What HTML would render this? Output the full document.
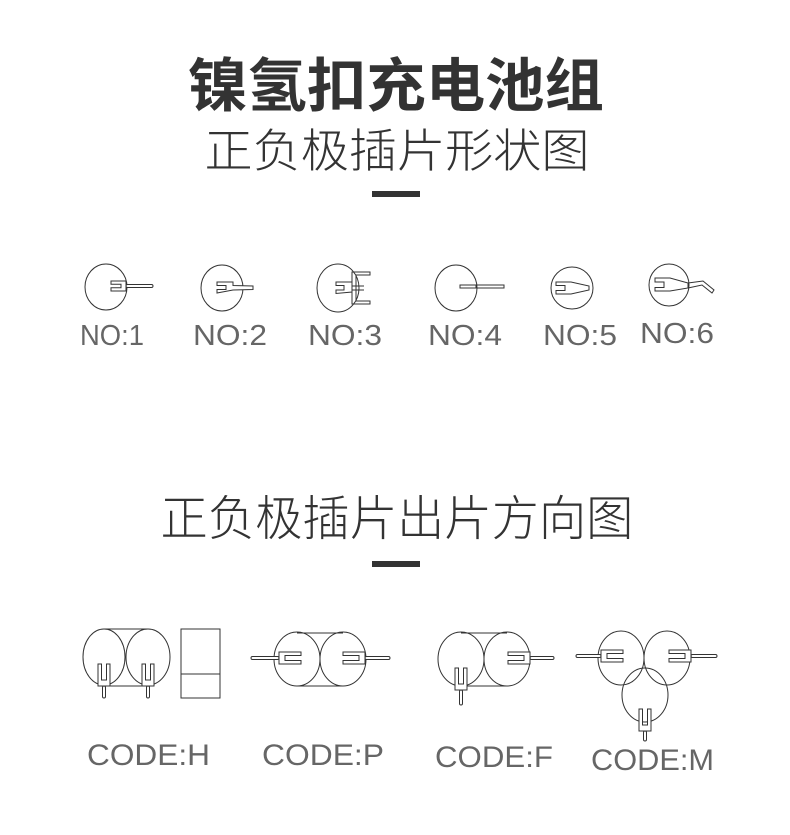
<!DOCTYPE html>
<html><head><meta charset="utf-8"><style>
html,body{margin:0;padding:0;background:#fff;}
svg{display:block;}
.t{font-family:"Liberation Sans","Noto Sans CJK SC",sans-serif;fill:#333;}
.lbl{font-family:"Liberation Sans",sans-serif;fill:#666;font-weight:normal;}
</style></head><body>
<svg width="790" height="835" viewBox="0 0 790 835" xmlns="http://www.w3.org/2000/svg">
<defs>
<g id="fk">
<path d="M0,-5 L-15,-5 L-15,-1.8 L-5,-1.8 L-5,1.8 L-15,1.8 L-15,5 L0,5 Z" fill="#fff" stroke="#333" stroke-width="1"/>
</g>
<g id="fk2">
<path d="M0,-6 L-22,-6 L-22,-2.5 L-6,-2.5 L-6,2.5 L-22,2.5 L-22,6 L0,6 Z" fill="#fff" stroke="#333" stroke-width="1"/>
</g>
</defs>
<text class="t" x="396" y="106" font-size="58" font-weight="bold" text-anchor="middle" textLength="416" lengthAdjust="spacingAndGlyphs">镍氢扣充电池组</text>
<text class="t" x="397" y="167" font-size="46" text-anchor="middle" textLength="385" lengthAdjust="spacingAndGlyphs" style="font-family:'Noto Sans CJK SC',sans-serif;font-weight:300">正负极插片形状图</text>
<rect x="372" y="191" width="48" height="6" fill="#333"/>

<g fill="none" stroke="#333" stroke-width="1">
<!-- NO1 -->
<ellipse cx="106" cy="287" rx="21" ry="23"/>
<use href="#fk" x="126" y="286"/>
<rect x="126" y="284.5" width="27" height="3" rx="1.5" fill="#fff"/>
<!-- NO2 -->
<ellipse cx="222" cy="288" rx="21" ry="23"/>
<path d="M233,282 L217,282 L217,285.5 L226,285.5 L226,289.5 L217,289.5 L217,293 L233,290 L253,289.5 L253,286 L233,285.5 Z" fill="#fff"/>
<!-- NO3 -->
<ellipse cx="338" cy="288" rx="21" ry="24"/>
<path d="M352,282 L336,282 L336,285.5 L344,285.5 L344,290 L336,290 L336,293.5 L352,292 Z"/>
<path d="M352,272 L370,272 L370,275 L356,275 L356,301 L370,301 L370,304 L352,304 Z"/>
<line x1="352" y1="286" x2="364" y2="286"/><line x1="352" y1="290" x2="364" y2="290"/>
<!-- NO4 -->
<ellipse cx="456" cy="288" rx="21" ry="23"/>
<rect x="460" y="285" width="44" height="3"/>
<line x1="476" y1="285" x2="476" y2="288"/>
<!-- NO5 -->
<ellipse cx="572" cy="288" rx="21" ry="21"/>
<path d="M556,282 L571,282 L589,286 L589,290 L571,294 L556,294 L556,290.5 L565,290.5 L565,285.5 L556,285.5 Z"/>
<!-- NO6 -->
<ellipse cx="669" cy="285" rx="20" ry="21"/>
<path d="M655,278 L670,278 L688,283 L688,288 L670,291 L655,291 L655,287.5 L664,287.5 L664,282 L655,282 Z"/>
<path d="M688,283 L703,281 L714,290 L712,293 L702,285 L688,288"/>
</g>
<g class="lbl" font-size="29">
<text x="80" y="345" textLength="64" lengthAdjust="spacingAndGlyphs">NO:1</text>
<text x="193" y="345" textLength="74" lengthAdjust="spacingAndGlyphs">NO:2</text>
<text x="308" y="345" textLength="74" lengthAdjust="spacingAndGlyphs">NO:3</text>
<text x="428" y="345" textLength="74" lengthAdjust="spacingAndGlyphs">NO:4</text>
<text x="543" y="345" textLength="74" lengthAdjust="spacingAndGlyphs">NO:5</text>
<text x="640" y="343" textLength="74" lengthAdjust="spacingAndGlyphs">NO:6</text>
</g>

<text class="t" x="397" y="535" font-size="48" text-anchor="middle" textLength="473" lengthAdjust="spacingAndGlyphs" style="font-family:'Noto Sans CJK SC',sans-serif;font-weight:300">正负极插片出片方向图</text>
<rect x="372" y="561" width="48" height="6" fill="#333"/>

<g fill="none" stroke="#333" stroke-width="1">
<!-- H -->
<line x1="104" y1="629" x2="148" y2="629"/><line x1="104" y1="686" x2="148" y2="686"/>
<ellipse cx="104" cy="657" rx="21" ry="28"/>
<ellipse cx="148" cy="657" rx="22" ry="28"/>
<rect x="181" y="629" width="39" height="69"/><line x1="181" y1="674" x2="220" y2="674"/>
<use href="#fk2" transform="translate(104,686) rotate(90)"/>
<rect x="102.5" y="686" width="3" height="12" rx="1.5" fill="#fff"/>
<use href="#fk2" transform="translate(148,686) rotate(90)"/>
<rect x="146.5" y="686" width="3" height="12" rx="1.5" fill="#fff"/>
<!-- P -->
<line x1="297" y1="633" x2="343" y2="633"/><line x1="297" y1="686" x2="343" y2="686"/>
<ellipse cx="297" cy="659" rx="23" ry="27"/>
<ellipse cx="343" cy="659" rx="23" ry="27"/>
<rect x="251" y="656.5" width="28" height="3" rx="1.5" fill="#fff"/>
<use href="#fk2" transform="translate(279,658) rotate(180)"/>
<use href="#fk2" x="365" y="658"/>
<rect x="365" y="656.5" width="25" height="3" rx="1.5" fill="#fff"/>
<!-- F -->
<line x1="461" y1="633" x2="507" y2="633"/><line x1="461" y1="686" x2="507" y2="686"/>
<ellipse cx="461" cy="659" rx="23" ry="27"/>
<ellipse cx="507" cy="659" rx="23" ry="27"/>
<use href="#fk2" transform="translate(461,690) rotate(90)"/>
<rect x="459.5" y="690" width="3" height="15" rx="1.5" fill="#fff"/>
<use href="#fk2" x="530" y="658"/>
<rect x="530" y="656.5" width="24" height="3" rx="1.5" fill="#fff"/>
<!-- M -->
<ellipse cx="621" cy="658" rx="23" ry="27"/>
<ellipse cx="667" cy="658" rx="23" ry="27"/>
<ellipse cx="645" cy="695" rx="23" ry="27"/>
<rect x="576" y="654.5" width="25" height="3" rx="1.5" fill="#fff"/>
<use href="#fk2" transform="translate(601,656) rotate(180)"/>
<use href="#fk2" x="691" y="656"/>
<rect x="691" y="654.5" width="26" height="3" rx="1.5" fill="#fff"/>
<use href="#fk2" transform="translate(645,731) rotate(90)"/>
<rect x="643.5" y="731" width="3" height="10" rx="1.5" fill="#fff"/>
</g>
<g class="lbl" font-size="30">
<text x="87" y="765" textLength="123" lengthAdjust="spacingAndGlyphs">CODE:H</text>
<text x="262" y="765" textLength="122" lengthAdjust="spacingAndGlyphs">CODE:P</text>
<text x="435" y="767" textLength="118" lengthAdjust="spacingAndGlyphs">CODE:F</text>
<text x="591" y="770" textLength="123" lengthAdjust="spacingAndGlyphs">CODE:M</text>
</g>
</svg>
</body></html>
